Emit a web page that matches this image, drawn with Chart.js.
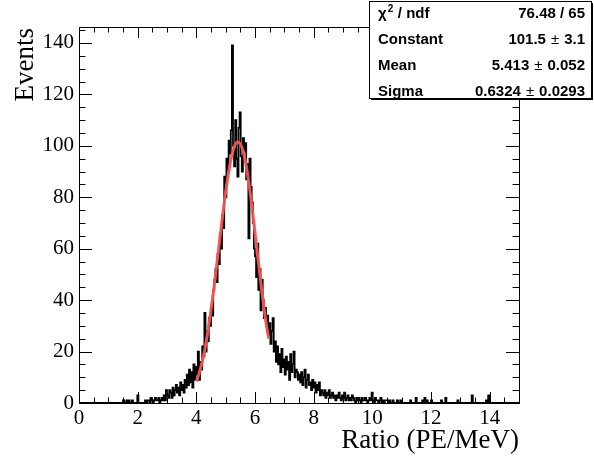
<!DOCTYPE html>
<html>
<head>
<meta charset="utf-8">
<script src="https://cdn.jsdelivr.net/npm/chart.js@4"></script>
<style>
  html, body { margin: 0; padding: 0; background: #fff; }
  .chart__wrapper { width: 594px; height: 463px; position: relative; }
</style>
</head>
<body>
<div class="chart__wrapper"><canvas id="ratio-chart"></canvas></div>
<script>
// histogram of Ratio (PE/MeV), 400 bins from 0 to 15
const ratioCounts = [
  0, 0, 0, 0, 0, 0, 0, 0, 0, 0, 0, 0, 0, 0, 0, 0, 0, 0, 0, 0,
  0, 0, 0, 0, 0, 0, 0, 0, 0, 0, 0, 0, 0, 0, 0, 0, 0, 0, 0, 0,
  1, 0, 0, 1, 0, 1, 0, 0, 1, 0, 0, 0, 0, 3, 0, 0, 0, 0, 0, 0,
  1, 0, 1, 1, 0, 2, 1, 0, 1, 2, 1, 1, 2, 0, 1, 2, 1, 3, 1, 5,
  3, 2, 5, 4, 2, 6, 3, 5, 7, 4, 6, 3, 8, 5, 7, 4, 9, 6, 11, 7,
  13, 8, 12, 6, 15, 9, 14, 11, 20, 9, 16, 13, 22, 18, 35, 20, 28, 24, 33, 30,
  37, 34, 44, 48, 52, 47, 58, 54, 66, 60, 73, 68, 88, 80, 95, 90, 102, 97, 106, 139,
  100, 92, 110, 95, 88, 107, 113, 96, 90, 103, 98, 101, 87, 93, 64, 95, 84, 78, 70, 60,
  57, 49, 62, 44, 52, 36, 48, 40, 33, 37, 30, 34, 26, 31, 23, 28, 33, 20, 24, 16,
  22, 15, 19, 12, 21, 14, 17, 11, 18, 13, 16, 9, 19, 12, 15, 20, 10, 13, 12, 9,
  11, 8, 12, 7, 10, 13, 6, 9, 11, 7, 8, 5, 9, 6, 8, 4, 7, 5, 8, 3,
  5, 4, 3, 5, 2, 4, 3, 5, 2, 3, 4, 2, 3, 1, 3, 2, 4, 2, 1, 3,
  2, 4, 1, 2, 3, 1, 2, 1, 3, 2, 1, 0, 2, 1, 2, 1, 0, 2, 1, 1,
  2, 1, 0, 1, 2, 1, 4, 1, 0, 2, 1, 1, 0, 1, 2, 0, 1, 0, 1, 1,
  1, 0, 1, 0, 0, 1, 0, 0, 0, 1, 0, 0, 1, 0, 0, 0, 0, 0, 0, 0,
  0, 1, 0, 0, 0, 0, 2, 0, 0, 0, 0, 0, 1, 0, 2, 0, 1, 0, 0, 0,
  1, 0, 0, 0, 0, 0, 0, 0, 0, 1, 0, 0, 0, 2, 0, 0, 0, 0, 0, 0,
  0, 0, 0, 0, 1, 0, 0, 0, 0, 0, 0, 0, 0, 0, 0, 0, 0, 3, 0, 0,
  0, 0, 0, 0, 0, 0, 0, 0, 0, 0, 1, 0, 3, 0, 0, 0, 0, 0, 0, 0,
  0, 0, 0, 0, 0, 0, 0, 0, 0, 0, 0, 0, 0, 0, 0, 0, 0, 0, 0, 0
];

// gaus fit curve
const fitX = [4.0, 4.1, 4.2, 4.3, 4.4, 4.5, 4.6, 4.7, 4.8, 4.9, 5.0, 5.1, 5.2,
  5.3, 5.4, 5.5, 5.6, 5.7, 5.8, 5.9, 6.0, 6.1, 6.2, 6.3, 6.4, 6.47];
const fitY = [8.4, 11.7, 16, 21.5, 28.4, 36.3, 44.8, 54.3, 63.7, 73.3, 82.1, 89.6, 95.8,
  99.8, 101.5, 100.7, 97.7, 92.3, 84.8, 75.7, 66.3, 56.3, 46.6, 37.5, 29.4, 25];

const xRange = [0, 15];
const yRange = [0, 146.2];
const xMajorStep = 2, xMinorStep = 0.5;
const yMajorStep = 20, yMinorStep = 5;

const statsLabels = ["\u03c7", "Constant", "Mean", "Sigma"];
const statsValues = [["76.48 / 65"], ["101.5", "3.1"], ["5.413", "0.052"], ["0.6324", "0.0293"]];

const xTitle = "Ratio (PE/MeV)";
const yTitle = "Events";

const binWidth = (xRange[1] - xRange[0]) / ratioCounts.length;
const histPoints = ratioCounts.map((c, i) => ({ x: xRange[0] + i * binWidth, y: c }));
histPoints.push({ x: xRange[1], y: ratioCounts[ratioCounts.length - 1] });
const fitPoints = fitX.map((x, i) => ({ x: x, y: fitY[i] }));

const tickFont = { family: "'Liberation Serif', 'Times New Roman', serif", size: 21 };
const boldSans = "bold 15px 'Liberation Sans', Arial, sans-serif";

// frame, inward ticks on all 4 sides, axis titles and the stats box
const rootStyle = {
  id: "rootStyle",
  afterDraw(chart) {
    const { ctx, chartArea: a, scales } = chart;
    const xs = scales.x, ys = scales.y;
    ctx.save();
    ctx.strokeStyle = "#000";
    ctx.lineWidth = 1;

    ctx.strokeRect(Math.round(a.left) + 0.5, Math.round(a.top) + 0.5,
      Math.round(a.right - a.left), Math.round(a.bottom - a.top));

    ctx.beginPath();
    for (let v = xRange[0]; v <= xRange[1] + 1e-9; v += xMinorStep) {
      const px = Math.round(xs.getPixelForValue(v)) + 0.5;
      const len = Math.abs(v / xMajorStep - Math.round(v / xMajorStep)) < 1e-6 ? 11 : 5.5;
      ctx.moveTo(px, a.bottom); ctx.lineTo(px, a.bottom - len);
      ctx.moveTo(px, a.top); ctx.lineTo(px, a.top + len);
    }
    for (let v = yRange[0]; v <= yRange[1] + 1e-9; v += yMinorStep) {
      const py = Math.round(ys.getPixelForValue(v)) + 0.5;
      const len = v % yMajorStep === 0 ? 13 : 6.5;
      ctx.moveTo(a.left, py); ctx.lineTo(a.left + len, py);
      ctx.moveTo(a.right, py); ctx.lineTo(a.right - len, py);
    }
    ctx.stroke();

    ctx.fillStyle = "#000";
    ctx.font = "27px 'Liberation Serif', serif";
    ctx.textAlign = "right";
    ctx.textBaseline = "alphabetic";
    ctx.fillText(xTitle, a.right, 448);

    ctx.save();
    ctx.translate(33, a.top + 1);
    ctx.rotate(-Math.PI / 2);
    ctx.fillText(yTitle, 0, 0);
    ctx.restore();

    // stats box
    const bx = 369, by = 1, bw = 222, bh = 97;
    ctx.fillStyle = "#fff";
    ctx.fillRect(bx, by, bw, bh);
    ctx.fillStyle = "#000";
    ctx.fillRect(bx + 2, by + bh, bw, 2);
    ctx.fillRect(bx + bw, by + 2, 2, bh);
    ctx.strokeRect(bx + 0.5, by + 0.5, bw, bh);

    ctx.textBaseline = "middle";
    const right = bx + bw - 6;
    statsLabels.forEach((label, i) => {
      const y = 14 + i * 25.8;
      ctx.font = boldSans;
      ctx.textAlign = "left";
      ctx.fillText(label, bx + 9, y);
      if (i === 0) {
        const w = ctx.measureText(label).width;
        ctx.font = "bold 10px 'Liberation Sans', Arial, sans-serif";
        ctx.fillText("2", bx + 9 + w + 1, y - 5);
        ctx.font = boldSans;
        ctx.fillText(" / ndf", bx + 9 + w + 7, y);
      }
      const parts = statsValues[i];
      ctx.textAlign = "right";
      if (parts.length === 1) {
        ctx.fillText(parts[0], right, y);
        return;
      }
      ctx.fillText(parts[1], right, y);
      let x = right - ctx.measureText(parts[1]).width - 5;
      ctx.font = "15px 'Liberation Sans', Arial, sans-serif";
      ctx.fillText("\u00b1", x, y);
      x -= ctx.measureText("\u00b1").width + 5;
      ctx.font = boldSans;
      ctx.fillText(parts[0], x, y);
    });
    ctx.restore();
  }
};

new Chart(document.getElementById("ratio-chart").getContext("2d"), {
  type: "line",
  data: {
    datasets: [
      {
        label: "Ratio",
        data: histPoints,
        stepped: "before",
        borderColor: "#000",
        borderWidth: 1.8,
        pointRadius: 0,
        fill: false,
        order: 2,
      },
      {
        label: "gaus",
        data: fitPoints,
        borderColor: "rgba(245, 85, 85, 0.95)",
        borderWidth: 3,
        pointRadius: 0,
        cubicInterpolationMode: "monotone",
        fill: false,
        order: 1,
      },
    ],
  },
  options: {
    responsive: true,
    maintainAspectRatio: false,
    animation: false,
    devicePixelRatio: 1,
    layout: { padding: { top: 27, right: 75, left: 0, bottom: 0 } },
    scales: {
      x: {
        type: "linear",
        min: xRange[0],
        max: xRange[1],
        afterFit(scale) { scale.height = 60; },
        grid: { display: false, drawTicks: false },
        border: { display: false },
        ticks: {
          stepSize: xMajorStep,
          includeBounds: false,
          autoSkip: false,
          maxRotation: 0,
          padding: 3,
          color: "#000",
          font: tickFont,
        },
      },
      y: {
        type: "linear",
        min: yRange[0],
        max: yRange[1],
        afterFit(scale) { scale.width = 79; },
        grid: { display: false, drawTicks: false },
        border: { display: false },
        ticks: {
          stepSize: yMajorStep,
          includeBounds: false,
          padding: 5,
          color: "#000",
          font: tickFont,
        },
      },
    },
    plugins: {
      legend: { display: false },
      tooltip: { enabled: false },
      title: { display: false },
    },
  },
  plugins: [rootStyle],
});
</script>
</body>
</html>
